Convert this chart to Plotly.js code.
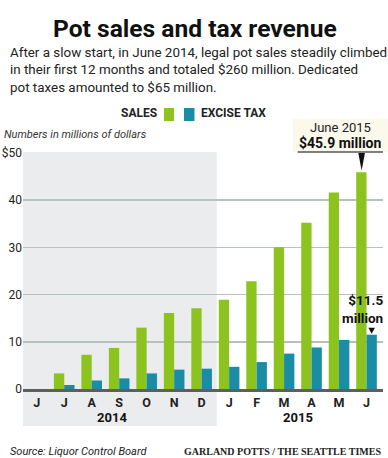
<!DOCTYPE html>
<html>
<head>
<meta charset="utf-8">
<script src="https://cdn.plot.ly/plotly-3.0.1.min.js"></script>
<style>
html,body{margin:0;padding:0;background:#fff;}
#chart{width:388px;height:458px;}
</style>
</head>
<body>
<div id="chart"></div>
<script>
// ---- data ----
const months = ['J','J','A','S','O','N','D','J','F','M','A','M','J'];
const sales = [0, 3.3, 7.25, 8.7, 13.0, 16.1, 17.1, 18.9, 22.8, 30.0, 35.2, 41.6, 45.9];
const exciseTax = [0, 0.85, 1.8, 2.25, 3.3, 4.1, 4.3, 4.7, 5.7, 7.5, 8.8, 10.4, 11.5];
const yearLabels = ['2014', '2015'];
const yTickVals = [0, 10, 20, 30, 40, 50];
const yTickText = ['0', '10', '20', '30', '40', '$50'];

const idx = months.map((m, i) => i);
const GREEN = '#8cc31f', BLUE = '#1a8ca6';
const FONT = 'Roboto, "Open Sans", sans-serif';
const last = months.length - 1;
const barOff = 0.1875; // half of one bar in grouped mode (bargap 0.25)

const traces = [
  {type:'bar', name:'SALES', x: idx, y: sales, marker:{color: GREEN}, hoverinfo:'skip'},
  {type:'bar', name:'EXCISE TAX', x: idx, y: exciseTax, marker:{color: BLUE}, hoverinfo:'skip'}
];

const gx = last - barOff, bx = last + barOff;
const sTop = sales[last], tTop = exciseTax[last];

const layout = {
  width: 388, height: 458,
  margin: {l: 23, r: 5, t: 152, b: 69},
  paper_bgcolor: '#fff', plot_bgcolor: 'rgba(0,0,0,0)',
  barmode: 'group', bargap: 0.25, bargroupgap: 0,
  showlegend: false,
  font: {family: FONT, color: '#222'},
  xaxis: {
    range: [-0.5, 12.6], tickvals: idx, ticktext: months,
    showgrid: false, zeroline: false, showline: true, linecolor: '#5a5f5f', linewidth: 2.5,
    ticks: '', tickfont: {size: 12.5, color: '#222', family: FONT, weight: 'bold'},
    fixedrange: true
  },
  yaxis: {
    range: [0, 50.2], tickvals: yTickVals, ticktext: yTickText,
    showgrid: true, gridcolor: '#b5c0c0', gridwidth: 1.6, zeroline: false,
    ticks: '', ticklabelstandoff: 0, tickfont: {size: 12, color: '#222', family: FONT},
    fixedrange: true
  },
  shapes: [
    {type:'rect', layer:'below', xref:'x', yref:'paper', x0:-0.5, x1:6.55, y0:-0.156, y1:1.0,
     fillcolor:'#ebeced', line:{width:0}},
    {type:'rect', layer:'below', xref:'paper', yref:'paper', x0:0.75, x1:1.02, y0:1.0, y1:1.14,
     fillcolor:'#fbf9ec', line:{width:0}},
    {type:'line', layer:'above', xref:'paper', yref:'paper', x0:0.763, x1:1.0, y0:1.0, y1:1.0,
     line:{color:'#555', width:1.6}},
    {type:'path', layer:'above', xref:'x', yref:'y',
     path:`M ${gx-0.11} 50 L ${gx+0.13} 50 L ${gx+0.01} ${sTop+0.4} Z`,
     fillcolor:'#111', line:{width:0}},
    {type:'path', layer:'above', xref:'x', yref:'y',
     path:`M ${bx-0.12} ${tTop+1.45} L ${bx+0.12} ${tTop+1.45} L ${bx} ${tTop+0.2} Z`,
     fillcolor:'#111', line:{width:0}}
  ],
  annotations: [
    {xref:'paper', yref:'paper', x:0.478, y:1.0, xanchor:'center', yanchor:'middle',
     yshift: 152 - 28, showarrow:false,
     text:'<b>Pot sales and tax revenue</b>', font:{size:24.6, color:'#111', family: FONT}},
    {xref:'paper', yref:'paper', x:0, y:1.0, xanchor:'left', yanchor:'top', xshift:-15, yshift: 152 - 43,
     align:'left', showarrow:false,
     text:'After a slow start, in June 2014, legal pot sales steadily climbed<br>in their first 12 months and totaled $260 million. Dedicated<br>pot taxes amounted to $65 million.',
     font:{size:13.4, color:'#222', family: FONT}},
    {xref:'paper', yref:'paper', x:0, y:1.0, xanchor:'right', yanchor:'middle', xshift:159-23, yshift:152-113,
     showarrow:false, text:'<b>SALES</b>', font:{size:12, color:'#222', family: FONT}},
    {xref:'paper', yref:'paper', x:0, y:1.0, xanchor:'left', yanchor:'middle', xshift:199-23, yshift:152-113,
     showarrow:false, text:'<b>EXCISE TAX</b>', font:{size:12, color:'#222', family: FONT}},
    {xref:'paper', yref:'paper', x:0, y:1.0, xanchor:'left', yanchor:'middle', xshift:2-23, yshift:152-134,
     showarrow:false, text:'<i>Numbers in millions of dollars</i>', font:{size:11, color:'#333', family: FONT}},
    {xref:'paper', yref:'paper', x:0.883, y:1.0, xanchor:'center', yanchor:'middle', yshift:152-127,
     showarrow:false, text:'June 2015', font:{size:13, color:'#222', family: FONT}},
    {xref:'paper', yref:'paper', x:0.883, y:1.0, xanchor:'center', yanchor:'middle', yshift:152-143,
     showarrow:false, text:'<b>$45.9 million</b>', font:{size:14, color:'#111', family: FONT}},
    {xref:'paper', yref:'y', x:1, y:tTop, xanchor:'right', yanchor:'bottom', xshift:2, yshift:7,
     showarrow:false, align:'right', text:'<b>$11.5<br>million</b>', font:{size:13.5, color:'#111', family: FONT}},
    {xref:'x', yref:'paper', x:2.73, y:0, xanchor:'center', yanchor:'middle', yshift:-28,
     showarrow:false, text:'<b>' + yearLabels[0] + '</b>', font:{size:13, color:'#111', family: FONT}},
    {xref:'x', yref:'paper', x:9.5, y:0, xanchor:'center', yanchor:'middle', yshift:-28,
     showarrow:false, text:'<b>' + yearLabels[1] + '</b>', font:{size:13, color:'#111', family: FONT}},
    {xref:'paper', yref:'paper', x:0, y:0, xanchor:'left', yanchor:'middle', xshift:8-23, yshift:-(451-389),
     showarrow:false, text:'<i>Source: Liquor Control Board</i>', font:{size:11, color:'#222', family: FONT}},
    {xref:'paper', yref:'paper', x:1, y:0, xanchor:'right', yanchor:'middle', xshift:0, yshift:-(451-389),
     showarrow:false, text:'<b>GARLAND POTTS / THE SEATTLE TIMES</b>', font:{size:10, color:'#222', family:'"Liberation Serif", "DejaVu Serif", serif'}}
  ]
};

function px2x(p){ return (p - 23) / 360; }
function py2y(p){ return (389 - p) / 237; }
layout.shapes.push(
  {type:'rect', xref:'paper', yref:'paper', x0:px2x(164), x1:px2x(174), y0:py2y(121), y1:py2y(108), fillcolor:GREEN, line:{width:0}},
  {type:'rect', xref:'paper', yref:'paper', x0:px2x(184), x1:px2x(194.5), y0:py2y(121), y1:py2y(108), fillcolor:BLUE, line:{width:0}}
);

Plotly.newPlot('chart', traces, layout, {displayModeBar:false, staticPlot:true});
</script>
</body>
</html>
